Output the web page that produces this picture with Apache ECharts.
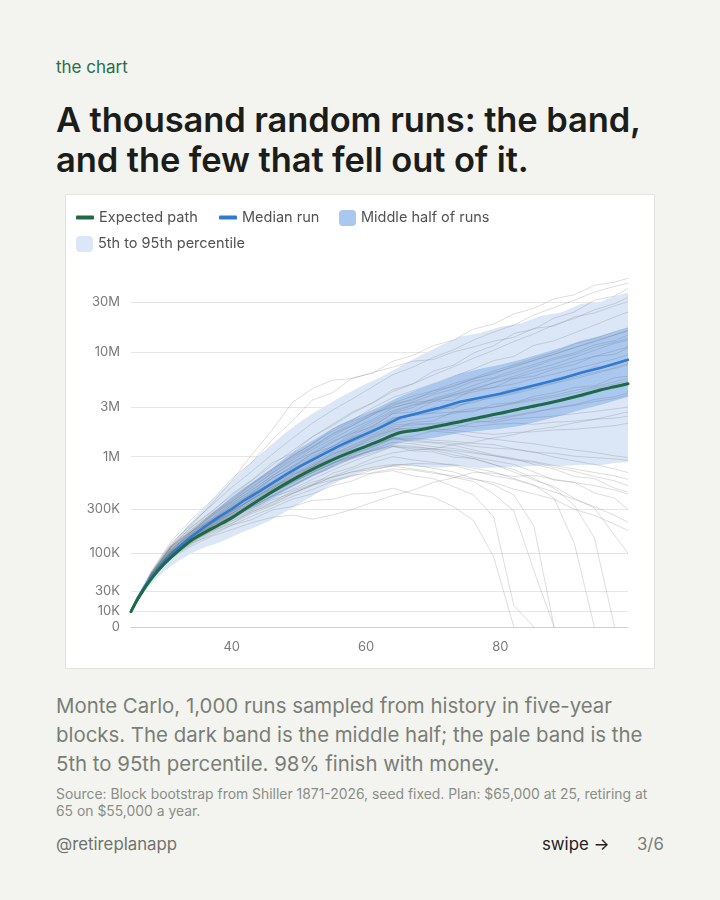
<!DOCTYPE html>
<html><head><meta charset="utf-8">
<script src="https://cdn.jsdelivr.net/npm/echarts@6/dist/echarts.min.js"></script>
<style>
html,body{margin:0;padding:0;}
body{width:720px;height:900px;background:#f3f4ef;font-family:Inter,'Noto Sans',sans-serif;position:relative;overflow:hidden;}
.kicker{position:absolute;left:56px;top:57px;font-size:17px;line-height:20px;color:#2a6d4a;}
.title{position:absolute;left:56px;top:100px;font-size:34.5px;font-weight:600;line-height:40px;color:#1b1d1a;letter-spacing:-0.1px;white-space:nowrap;}
.card{position:absolute;left:65px;top:194px;width:588px;height:473px;background:#fff;border:1px solid #e2e4de;}
#chart{position:absolute;left:0;top:0;width:588px;height:473px;}
.body{position:absolute;left:56px;top:691px;width:610px;font-size:20.4px;line-height:29px;color:#7a7e77;}
.source{position:absolute;left:56px;top:786px;width:600px;font-size:13.9px;line-height:17px;color:#8a8d87;}
.foot{position:absolute;top:834px;font-size:16.8px;line-height:20px;}
</style></head>
<body>
<div class="kicker">the chart</div>
<div class="title">A thousand random runs: the band,<br>and the few that fell out of it.</div>
<div class="card"><div id="chart"></div></div>
<div class="body">Monte Carlo, 1,000 runs sampled from history in five-year blocks. The dark band is the middle half; the pale band is the 5th to 95th percentile. 98% finish with money.</div>
<div class="source">Source: Block bootstrap from Shiller 1871-2026, seed fixed. Plan: $65,000 at 25, retiring at 65 on $55,000 a year.</div>
<div class="foot" style="left:56px;color:#6f736d;">@retireplanapp</div>
<div class="foot" style="left:542px;color:#222;">swipe →</div>
<div class="foot" style="left:637px;color:#7a7e77;">3/6</div>
<script>
// values in thousands of dollars
const ages = [25,26,27,28,29,30,32,34,36,38,40,42,44,46,48,50,52,54,56,58,60,62,65,68,71,74,77,80,83,86,89,92,95,97,99];
const expected = [10,21,33,46,60,75,106,141,172,205,245,303,371,451,542,643,753,871,997,1127,1260,1424,1700,1817,1985,2168,2395,2615,2888,3153,3483,3885,4385,4683,5000];
const median = [10,22,35,49,64,81,116,155,199,248,303,375,451,548,665,796,932,1090,1274,1456,1663,1899,2368,2644,2953,3369,3679,4015,4483,5000,5580,6365,7100,7750,8460];
const p95 = [10,25,41,60,80,104,155,222,314,431,580,779,1019,1317,1700,2120,2587,3085,3679,4290,5000,5705,7260,9235,11500,14000,15200,17400,18700,22000,23800,28600,30000,34000,36600];
const p75 = [10,23,37,53,70,90,130,176,235,310,402,506,621,770,975,1192,1424,1700,2029,2317,2644,3018,3760,4483,5228,6228,6950,7585,8460,9650,11000,12800,14300,15600,17000];
const p25 = [10,21,33,45,58,72,102,134,165,199,233,283,326,388,462,542,635,728,852,953,1066,1165,1362,1456,1556,1700,1777,1857,1985,2217,2475,2825,3153,3444,3760];
const p5 = [10,19,29,39,49,60,80,100,117,131,153,178,202,236,283,341,411,494,580,650,728,779,815,796,780,815,770,790,800,820,810,835,830,870,890];

const runAges = [25,28,31,34,37,40,43,46,49,52,55,58,61,64,67,70,73,76,79,82,85,88,91,94,97,99];
const runs = [
[10,58,138,235,370,610,880,1450,2200,3500,4100,5700,6300,8200,9300,11500,13000,16500,18500,23000,26000,32000,35000,43000,46000,50000],
[10,56,122,195,280,430,590,870,1080,1550,2050,2700,3300,4400,5000,6600,7500,9800,11500,15000,16500,21000,24000,31000,34000,40000],
[10,53,121,178,265,365,530,740,1020,1320,1850,2250,2950,3700,4300,5000,5900,6900,8300,9100,11600,12800,15200,18000,21500,24000],
[10,55,132,205,340,580,1050,1800,3300,4500,5400,5600,6400,7200,8200,8500,10000,11200,12700,13800,16800,17700,21500,23500,27500,30000],
[10,54,117,174,240,345,465,650,860,1170,1480,1880,2280,2950,3350,3950,4450,5300,5700,6700,7600,8800,9800,11700,12800,14500],
[10,51,106,150,225,290,420,540,690,940,1150,1550,1700,2350,2500,3000,2900,3500,3900,4600,4500,5600,6100,7200,7400,8300],
[10,53,110,175,232,330,440,620,780,1080,1250,1680,1950,2600,2700,3400,3500,4400,4600,5600,5900,6900,7600,9100,9500,11000],
[10,49,104,148,215,272,390,480,670,800,1080,1200,1550,1800,2150,2200,2700,2700,3200,3300,3800,4100,4600,4800,5700,5900],
[10,49,99,147,190,260,325,440,550,710,850,1070,1230,1520,1580,1780,1870,2130,2220,2450,2650,2950,3150,3550,3750,4100],
[10,47,94,133,178,215,285,335,435,530,690,790,960,1090,1160,1190,1310,1380,1520,1630,1820,1930,2120,2280,2520,2700],
[10,47,90,130,160,205,235,295,320,370,380,430,440,490,430,400,320,230,90,0,null,null,null,null,null,null],
[10,48,95,142,183,238,295,375,435,525,590,660,690,730,650,610,510,420,250,15,0,null,null,null,null,null],
[10,49,97,146,198,252,318,405,465,565,635,710,750,810,760,710,630,570,430,290,60,0,null,null,null,null],
[10,48,96,137,182,228,292,355,455,535,625,715,790,840,830,770,710,610,530,420,200,0,null,null,null,null],
[10,47,92,131,174,213,272,328,405,475,575,645,745,820,860,850,840,770,710,610,530,390,130,0,null,null],
[10,50,101,151,204,272,348,455,575,725,875,1010,1140,1260,1190,1160,1040,960,840,750,610,490,330,150,0,null],
[10,48,97,141,188,247,318,412,515,655,790,960,1090,1260,1140,1110,990,960,840,710,590,510,390,310,160,100],
[10,49,99,146,202,258,342,438,565,695,860,990,1160,1290,1260,1190,1110,990,910,840,710,590,560,440,390,300],
[10,51,104,156,213,292,378,505,615,790,940,1120,1280,1520,1390,1360,1290,1160,1040,960,840,760,640,610,490,450],
[10,50,103,149,207,273,362,468,605,735,905,1090,1310,1490,1510,1440,1410,1340,1310,1190,1110,990,910,840,760,700],
[10,45,88,121,156,184,218,248,262,238,262,300,355,415,470,560,620,700,690,640,660,600,560,520,470,430],
[10,52,112,166,237,318,432,575,765,975,1260,1540,1910,2380,2480,2620,2680,2920,2980,3230,3480,3730,4080,4530,4980,5300],
[10,51,108,164,226,312,428,562,735,955,1140,1410,1640,2020,2080,2060,2090,2210,2140,2310,2380,2460,2590,2720,2880,3000],
[10,53,116,176,257,355,505,690,960,1240,1670,2080,2620,3280,3820,4280,5020,5680,6620,7580,8720,9950,11900,13400,15600,17000],
[10,52,110,168,230,318,436,605,795,1010,1240,1610,1990,2610,2980,3620,4080,4820,5580,6320,7280,8520,9480,11100,12400,13500],
[10,50,105,155,217,288,392,518,685,865,1110,1370,1710,2090,2260,2390,2610,2790,3010,3290,3610,3880,4320,4680,5230,5600],
[10,54,119,183,272,388,545,755,1010,1340,1760,2190,2620,2990,3310,3480,3820,4180,4620,4980,5620,6180,6920,7680,8620,9400],
[10,49,100,149,203,272,358,482,618,805,975,1210,1440,1760,1790,1860,1790,1710,1640,1710,1740,1810,1840,1910,1990,2100],
[10,53,114,174,250,342,475,645,885,1090,1410,1690,2110,2690,3120,3380,3920,4380,5120,5880,6820,7680,8920,10400,12100,13000],
[10,55,121,197,287,415,585,825,1140,1560,1990,2620,3280,4220,4980,6050,7250,8750,10400,12600,14900,18100,20800,25200,28800,33000],
[10,51,106,161,219,302,408,552,718,935,1195,1510,1840,2310,2490,2810,2990,3420,3680,4020,4480,5030,5580,6230,6980,7600],
[10,50,102,153,213,284,382,508,662,838,1055,1295,1605,1945,2010,2090,2210,2290,2360,2490,2710,2890,3110,3390,3610,3900],
[10,56,126,215,330,500,720,1050,1500,2100,2800,3600,4700,6100,7200,8900,10500,13000,15500,18000,22500,26500,31000,37000,42000,45000],
[10,46,90,126,168,205,255,310,380,430,520,580,700,760,740,690,650,600,560,480,430,380,300,260,210,180],
[10,50,103,152,210,283,378,500,650,830,1040,1280,1560,1880,1820,1760,1700,1560,1480,1400,1330,1240,1160,1100,1020,980],
[10,48,98,143,196,250,322,410,520,660,810,980,1180,1380,1330,1250,1200,1110,1020,930,880,790,720,640,580,520],
[10,47,93,135,178,226,280,350,430,520,640,760,880,1000,930,880,820,730,650,600,520,450,380,320,260,220],
[10,53,112,168,238,330,452,615,810,1060,1370,1760,2200,2780,3150,3550,3950,4500,5100,5650,6400,7200,8200,9100,10300,11200],
[10,55,120,186,268,375,540,720,990,1250,1650,2000,2550,3200,3500,4300,4700,5600,6200,7400,8300,9600,11000,12500,14500,16000],
[10,50,104,152,212,285,375,490,635,800,1000,1240,1500,1820,1900,1950,2000,1950,2050,2100,2050,2150,2200,2300,2350,2450],
[10,47,95,138,190,245,305,385,480,600,740,900,1060,1250,1230,1190,1150,1080,1020,950,900,820,760,700,650,600],
[10,52,109,160,222,305,420,540,720,900,1180,1420,1800,2150,2500,2650,3100,3300,3800,4100,4700,5100,5800,6400,7100,7800],
[10,54,118,178,258,360,495,690,920,1220,1580,2000,2520,3100,3600,4100,4800,5500,6400,7200,8400,9500,11000,12800,14600,16000],
[10,49,101,147,200,265,340,440,560,700,860,1050,1250,1480,1450,1380,1350,1260,1210,1180,1100,1080,1010,980,950,920]
];
const yTickValues = [0,10,30,100,300,1000,3000,10000,30000];
const yTickLabels = ['0','10K','30K','100K','300K','1M','3M','10M','30M'];
const xTickValues = [40,60,80];
const yMaxValue = 60000;

// symmetric-log transform (linear near zero, log above ~25K)
const SYM = 25;
const T = k => Math.log10(1 + k / SYM);
const yTicksT = yTickValues.map(T);

function bandSeries(name, lo, hi, color) {
  return {type:'custom', name, silent:true, z:1, clip:true, color, itemStyle:{color},
    data: ages.map((a,i)=>[a, T(lo[i]), T(hi[i])]),
    encode:{x:0, y:[1,2]},
    renderItem(params, api) {
      if (params.dataIndex !== 0) return null;
      const pts = [];
      for (let i = 0; i < ages.length; i++) pts.push(api.coord([ages[i], T(hi[i])]));
      for (let i = ages.length - 1; i >= 0; i--) pts.push(api.coord([ages[i], T(lo[i])]));
      return {type:'polygon', shape:{points:pts}, style:{fill:color}};
    }};
}
const series = [];
series.push(bandSeries('5th to 95th percentile', p5, p95, '#dbe7f7'));
series.push(bandSeries('Middle half of runs', p25, p75, '#a9c7ef'));
runs.forEach(r => {
  const d = [];
  r.forEach((v,i)=>{ if (v !== null) d.push([runAges[i], T(v)]); });
  series.push({type:'line', symbol:'none', silent:true, z:3, data:d,
    lineStyle:{color:'#6f6f6f', width:0.8, opacity:0.3}});
});
series.push({type:'line', name:'Median run', symbol:'none', z:4, color:'#2f7ad3',
  lineStyle:{color:'#2f7ad3', width:2.5, cap:'round'}, data: ages.map((a,i)=>[a, T(median[i])])});
series.push({type:'line', name:'Expected path', symbol:'none', z:5, smooth:0.3, color:'#1e6a44',
  lineStyle:{color:'#1e6a44', width:3, cap:'round'}, data: ages.map((a,i)=>[a, T(expected[i])])});

const legendText = {color:'#505350', fontSize:14.5, fontFamily:'Inter'};
const lineLegend = (name, left, color) => ({left, top:10, itemWidth:18, itemHeight:4, selectedMode:false,
  textStyle:legendText, data:[{name, icon:'roundRect', itemStyle:{color, borderWidth:0}}]});
const boxLegend = (name, left, top, color) => ({left, top, itemWidth:17, itemHeight:16, selectedMode:false,
  textStyle:legendText, data:[{name, icon:'roundRect', itemStyle:{color, borderWidth:0}}]});

const chart = echarts.init(document.getElementById('chart'), null, {renderer:'canvas'});
chart.setOption({
  animation:false,
  textStyle:{fontFamily:'Inter'},
  grid:{left:65, right:26, top:75, bottom:41, containLabel:false},
  legend:[
    lineLegend('Expected path', 5, '#1e6a44'),
    lineLegend('Median run', 148, '#2f7ad3'),
    boxLegend('Middle half of runs', 268, 10, '#a9c7ef'),
    boxLegend('5th to 95th percentile', 5, 36, '#dbe7f7')
  ],
  xAxis:{type:'value', min:25, max:99,
    axisLine:{show:true, lineStyle:{color:'#cfcfcf'}},
    axisTick:{show:false, customValues:xTickValues},
    axisLabel:{customValues:xTickValues, color:'#7a7a7a', fontSize:13, margin:14},
    splitLine:{show:false}},
  yAxis:{type:'value', min:0, max:T(yMaxValue),
    axisLine:{show:false},
    axisTick:{show:false, customValues:yTicksT},
    axisLabel:{customValues:yTicksT, color:'#7a7a7a', fontSize:13, margin:11,
      formatter: v => { const i = yTicksT.findIndex(t => Math.abs(t - v) < 1e-6); return i >= 0 ? yTickLabels[i] : ''; }},
    splitLine:{show:true, lineStyle:{color:'#e6e6e6', width:1}}},
  series
});
</script>
</body></html>
